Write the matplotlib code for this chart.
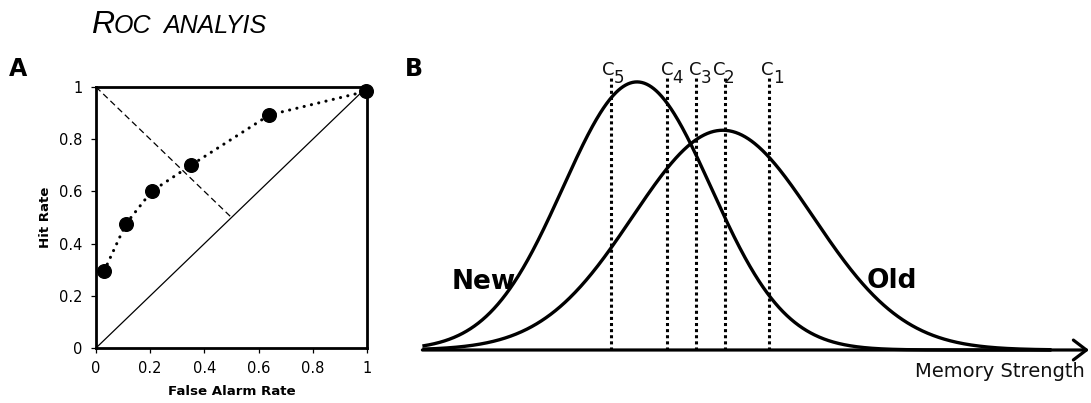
import numpy as np
import matplotlib
matplotlib.use("Agg")
import matplotlib.pyplot as plt

# ---- data -------------------------------------------------------------
# Panel A: empirical ROC points (false alarm rate, hit rate)
false_alarm = [0.03, 0.11, 0.205, 0.35, 0.64, 0.995]
hit_rate = [0.295, 0.475, 0.60, 0.70, 0.893, 0.983]
roc_ticks = [0, 0.2, 0.4, 0.6, 0.8, 1]
roc_tick_labels = ["0", "0.2", "0.4", "0.6", "0.8", "1"]

# Panel B: equal-area Gaussian strength distributions and response criteria
new_mean, new_sd = 0.0, 1.0
old_mean, old_sd = 1.16, 1.22
criteria = [1.78, 1.19, 0.80, 0.41, -0.355]          # C1 ... C5
criterion_names = ["1", "2", "3", "4", "5"]

# ---- figure -----------------------------------------------------------
W, H, DPI = 1091, 403, 100
fig = plt.figure(figsize=(W / DPI, H / DPI), dpi=DPI)


def px(x, y):
    """Figure fraction from pixel position (origin top-left)."""
    return x / W, 1 - y / H


# Title in small caps
tx, ty = px(91, 33.3)
fig.text(tx, ty, "R", family="Liberation Sans", style="italic", fontsize=23,
         va="baseline", ha="left")
tx, ty = px(114, 33.3)
fig.text(tx, ty, "OC", family="Liberation Sans", style="italic", fontsize=18,
         va="baseline", ha="left")
tx, ty = px(163, 33.3)
fig.text(tx, ty, "ANALYIS", family="Liberation Sans", style="italic", fontsize=18,
         va="baseline", ha="left")

# Panel letters
for letter, (lx, ly) in (("A", (9, 76.5)), ("B", (405, 76))):
    fx, fy = px(lx, ly)
    fig.text(fx, fy, letter, family="DejaVu Sans", weight="heavy", fontsize=17,
             va="baseline", ha="left")

# ---- Panel A: ROC -----------------------------------------------------
l, b = px(96, 348)
axA = fig.add_axes([l, b, (367 - 96) / W, (348 - 87) / H])
axA.set_xlim(0, 1)
axA.set_ylim(0, 1)

axA.plot([0, 1], [0, 1], color="black", lw=0.9, solid_capstyle="butt")
axA.plot([0, 0.5], [1, 0.5], color="black", lw=0.9, dashes=(5, 3))
axA.plot(false_alarm, hit_rate, color="black", lw=2.2,
         linestyle=(0, (0.05, 2.4)), dash_capstyle="round", clip_on=False)
axA.plot(false_alarm, hit_rate, linestyle="none", marker="o", markersize=9.8,
         color="black", clip_on=False, zorder=5)

for sp in axA.spines.values():
    sp.set_linewidth(2.0)
axA.set_xticks(roc_ticks)
axA.set_xticklabels(roc_tick_labels)
axA.set_yticks(roc_ticks)
axA.set_yticklabels(roc_tick_labels)
axA.tick_params(direction="out", length=3.5, width=0.9, labelsize=10.5,
                pad=6, top=False, right=False, colors="black")
for lab in axA.get_xticklabels() + axA.get_yticklabels():
    lab.set_family("DejaVu Sans")

axA.set_xlabel("False Alarm Rate", family="DejaVu Sans", weight="bold",
               fontsize=9.6)
axA.xaxis.label.set_va("center")
axA.xaxis.set_label_coords(0.5, -0.165)
axA.set_ylabel("Hit Rate", family="DejaVu Sans", weight="bold", fontsize=9.6)
axA.yaxis.label.set_va("center")
axA.yaxis.set_label_coords(-0.188, 0.5)

# ---- Panel B: signal detection distributions --------------------------
# Pixel scale of the strength axis
x0_px, unit_px = 637.0, 74.0       # location of new_mean, pixels per unit
base_px, yunit_px = 350.0, 672.0   # baseline, pixels per density unit
left_px, top_px = 410.0, 55.0

axB = fig.add_axes([left_px / W, 0, (W - left_px) / W, (H - top_px) / H])
axB.set_xlim((left_px - x0_px) / unit_px, (W - x0_px) / unit_px)
axB.set_ylim(-(H - base_px) / yunit_px, (base_px - top_px) / yunit_px)
axB.axis("off")


def normal_pdf(x, mu, sd):
    return np.exp(-0.5 * ((x - mu) / sd) ** 2) / (sd * np.sqrt(2 * np.pi))


x_start = -2.9
xs = np.linspace(x_start, 5.6, 800)
axB.plot(xs, normal_pdf(xs, new_mean, new_sd), color="black", lw=2.4,
         solid_capstyle="butt")
axB.plot(xs, normal_pdf(xs, old_mean, old_sd), color="black", lw=2.4,
         solid_capstyle="butt")

# Strength axis with arrow
axB.annotate("", xy=((1089 - x0_px) / unit_px, 0), xytext=(x_start, 0),
             arrowprops=dict(arrowstyle="->,head_length=0.55,head_width=0.42",
                             mutation_scale=17, lw=2.3, color="black",
                             shrinkA=0, shrinkB=0),
             annotation_clip=False)

# Response criteria
line_top = (base_px - 78) / yunit_px
label_base = (base_px - 75) / yunit_px
c_nudge_px = [-1, -6, -1, 0, -2]
for c, name, nudge in zip(criteria, criterion_names, c_nudge_px):
    axB.plot([c, c], [0, line_top], color="black", lw=2.2,
             linestyle=(0, (1, 1)), solid_capstyle="butt")
    axB.annotate("C", xy=(c, label_base), xytext=(nudge * 0.72, 0),
                 textcoords="offset points", ha="center", va="baseline",
                 fontsize=13, family="DejaVu Sans", color="#111111")
    axB.annotate(name, xy=(c, label_base), xytext=((nudge + 5.0) * 0.72, -8 * 0.72),
                 textcoords="offset points", ha="left", va="baseline",
                 fontsize=12, family="DejaVu Sans", color="#111111")

axB.text((452 - x0_px) / unit_px, (base_px - 289) / yunit_px, "New",
         family="DejaVu Sans", weight="bold", fontsize=19, ha="left",
         va="baseline")
axB.text((867 - x0_px) / unit_px, (base_px - 288) / yunit_px, "Old",
         family="DejaVu Sans", weight="bold", fontsize=19, ha="left",
         va="baseline")
axB.text((1085 - x0_px) / unit_px, (base_px - 377) / yunit_px,
         "Memory Strength", family="DejaVu Sans", fontsize=14, ha="right",
         va="baseline", color="#111111")

fig.savefig("out.png", dpi=DPI)
